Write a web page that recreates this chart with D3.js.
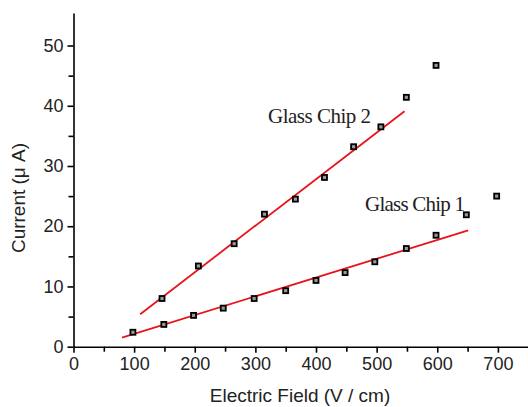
<!DOCTYPE html>
<html>
<head>
    <meta charset="utf-8"/>
    <style>
        body{ margin:0; background:#fff; }
        .domain, .tick line{ stroke:#000; stroke-width:1.6; }
        .tick text{ fill:#222; font-family:"Liberation Sans", Arial, sans-serif; font-size:18px; }
        .title{ fill:#222; font-family:"Liberation Sans", Arial, sans-serif; font-size:19px; }
        .note{ fill:#222; font-family:"Liberation Serif", "Times New Roman", serif; font-size:21px; }
        .fit{ fill:none; stroke:#e8141c; stroke-width:1.8; }
        .pt{ fill:#999; stroke:#000; stroke-width:1.8; }
    </style>
</head>
<body>
<svg id="graph"></svg>
<script src="https://d3js.org/d3.v7.min.js"></script>
<script>
    // measured points
    const chip1X = [98, 149, 198, 247, 298, 350, 400, 448, 497, 549, 598, 648, 698];
    const chip1Y = [2.4, 3.7, 5.2, 6.4, 8.0, 9.3, 11.0, 12.3, 14.1, 16.3, 18.5, 21.9, 25.0];
    const chip2X = [146, 206, 265, 315, 366, 414, 462, 507, 549, 598];
    const chip2Y = [8.0, 13.4, 17.1, 22.0, 24.5, 28.1, 33.2, 36.5, 41.4, 46.7];
    // linear fits (end points)
    const fit1X = [80, 651];
    const fit1Y = [1.5, 19.3];
    const fit2X = [110, 546];
    const fit2Y = [5.4, 39.1];
    const xTicks = [0, 100, 200, 300, 400, 500, 600, 700];
    const yTicks = [0, 10, 20, 30, 40, 50];

    var width = 528, height = 407;
    var svg = d3.select('#graph').attr('width', width).attr('height', height);

    var x = d3.scaleLinear().domain([0, 750]).range([73.5, 528.2]);
    var y = d3.scaleLinear().domain([0, 55.4]).range([346.7, 13]);

    // x axis, minor then major ticks
    svg.append('g')
        .attr('transform', 'translate(0,' + y(0) + ')')
        .call(d3.axisBottom(x).tickValues(d3.range(50, 750, 100)).tickSize(5).tickFormat(''))
        .call(g => g.select('.domain').remove());
    svg.append('g')
        .attr('transform', 'translate(0,' + y(0) + ')')
        .call(d3.axisBottom(x).tickValues(xTicks).tickSize(6).tickSizeOuter(0).tickPadding(5).tickFormat(d3.format('d')));

    // y axis
    svg.append('g')
        .attr('transform', 'translate(' + x(0) + ',0)')
        .call(d3.axisLeft(y).tickValues(d3.range(5, 55, 10)).tickSize(5).tickFormat(''))
        .call(g => g.select('.domain').remove());
    svg.append('g')
        .attr('transform', 'translate(' + x(0) + ',0)')
        .call(d3.axisLeft(y).tickValues(yTicks).tickSize(6).tickSizeOuter(0).tickPadding(4).tickFormat(d3.format('d')));

    // axis titles
    svg.append('text').attr('class', 'title')
        .attr('x', 300).attr('y', 402).attr('text-anchor', 'middle')
        .text('Electric Field (V / cm)');
    svg.append('text').attr('class', 'title')
        .attr('transform', 'translate(25,198) rotate(-90)')
        .attr('text-anchor', 'middle')
        .text('Current (\u03bc A)');

    // fit lines
    var line = d3.line().x(d => x(d[0])).y(d => y(d[1]));
    svg.append('path').attr('class', 'fit').attr('d', line(d3.zip(fit1X, fit1Y)));
    svg.append('path').attr('class', 'fit').attr('d', line(d3.zip(fit2X, fit2Y)));

    // points
    var pts = d3.zip(chip1X, chip1Y).concat(d3.zip(chip2X, chip2Y));
    svg.selectAll('.pt').data(pts).enter().append('rect')
        .attr('class', 'pt')
        .attr('x', d => x(d[0]) - 2.5).attr('y', d => y(d[1]) - 2.5)
        .attr('width', 5).attr('height', 5);

    // labels
    svg.append('text').attr('class', 'note').attr('x', 268).attr('y', 123)
        .attr('textLength', 103).text('Glass Chip 2');
    svg.append('text').attr('class', 'note').attr('x', 365).attr('y', 211)
        .attr('textLength', 100).text('Glass Chip 1');
</script>
</body>
</html>
